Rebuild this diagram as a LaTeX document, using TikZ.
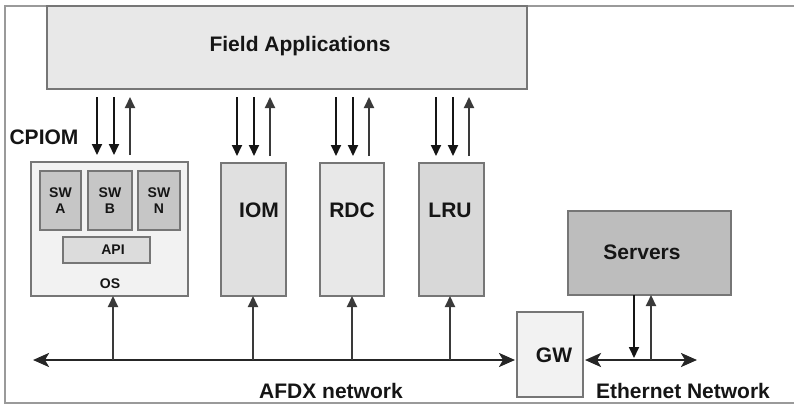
\documentclass[tikz,border=0pt]{standalone}
\usepackage{fontspec}
\setmainfont{Liberation Sans}
\usetikzlibrary{arrows.meta}

\definecolor{ink}{HTML}{151515}
\definecolor{inkup}{HTML}{3A3A3A}
\definecolor{businkc}{HTML}{262626}
\definecolor{boxline}{HTML}{767676}
\definecolor{framecol}{HTML}{9A9A9A}
\definecolor{faFill}{HTML}{E8E8E8}
\definecolor{cpiomFill}{HTML}{F2F2F2}
\definecolor{swFill}{HTML}{C6C6C6}
\definecolor{apiFill}{HTML}{DCDCDC}
\definecolor{iomFill}{HTML}{E0E0E0}
\definecolor{rdcFill}{HTML}{E8E8E8}
\definecolor{lruFill}{HTML}{D8D8D8}
\definecolor{srvFill}{HTML}{BDBDBD}
\definecolor{gwFill}{HTML}{F2F2F2}

\begin{document}
\begin{tikzpicture}[x=1pt,y=-1pt,
  box/.style={draw=boxline, line width=1.2pt, inner sep=0pt, outer sep=0pt, anchor=north west},
  big/.style={font=\fontsize{21}{24}\selectfont\bfseries, text=ink, inner sep=0pt},
  small/.style={font=\fontsize{14}{16}\selectfont\bfseries, text=ink, inner sep=0pt, align=center},
  dn/.style={line width=1.8pt, draw=ink, -{Triangle[length=11pt,width=10pt]}},
  upa/.style={line width=2pt, draw=inkup, -{Triangle[length=11pt,width=10pt]}},
  bus/.style={line width=2.6pt, draw=businkc, {Stealth[length=16pt,width=14pt,inset=4pt]}-{Stealth[length=16pt,width=14pt,inset=4pt]}},
  framing/.style={draw=framecol, line width=1.5pt}
]
\useasboundingbox (0,0) rectangle (794,405);

% outer frame
\draw[framing] (794,6) -- (5,6) -- (5,403) -- (794,403);

% boxes
\node[box, fill=faFill, minimum width=480pt, minimum height=83pt] (fa) at (47,6) {};
\node[box, fill=cpiomFill, minimum width=157pt, minimum height=134pt] (cpiom) at (31,162) {};
\node[box, fill=swFill, minimum width=41pt, minimum height=59pt] (swa) at (40,171) {};
\node[box, fill=swFill, minimum width=44pt, minimum height=59pt] (swb) at (88,171) {};
\node[box, fill=swFill, minimum width=42pt, minimum height=59pt] (swn) at (138,171) {};
\node[box, fill=apiFill, minimum width=87pt, minimum height=26pt] (api) at (63,237) {};
\node[box, fill=iomFill, minimum width=65pt, minimum height=133pt] (iom) at (221,163) {};
\node[box, fill=rdcFill, minimum width=64pt, minimum height=133pt] (rdc) at (320,163) {};
\node[box, fill=lruFill, minimum width=65pt, minimum height=133pt] (lru) at (419,163) {};
\node[box, fill=srvFill, minimum width=163pt, minimum height=84pt] (servers) at (568,211) {};
\node[box, fill=gwFill, minimum width=66pt, minimum height=85pt] (gw) at (517,312) {};

% labels
\node[big] (tfa) at (300,46) {Field Applications};
\node[big] (tcpiom) at (44,137) {CPIOM};
\node[small] (tswa) at (swa.center) {SW\\A};
\node[small] (tswb) at (swb.center) {SW\\B};
\node[small] (tswn) at (swn.center) {SW\\N};
\node[small] (tapi) at (113,250) {API};
\node[small] (tos) at (110,284) {OS};
\node[big] (tiom) at (259,210) {IOM};
\node[big] (trdc) at (352,210) {RDC};
\node[big] (tlru) at (450,210) {LRU};
\node[big] (tsrv) at (642,252) {Servers};
\node[big] (tgw) at (554,355) {GW};
\node[big] (tafdx) at (331,391) {AFDX network};
\node[big] (teth) at (683,391) {Ethernet Network};

% buses
\coordinate (afdxL) at (33,360);
\coordinate (ethR) at (697,360);
\draw[bus, shorten >=2pt] (afdxL) -- (afdxL -| gw.west);
\draw[bus, shorten <=2pt] (afdxL -| gw.east) -- (ethR);

% links between field applications, modules and the AFDX bus
\foreach \n/\m/\b in {cpiom/114/113, iom/254/253, rdc/353/352, lru/453/450}{
  \coordinate (d1\n) at (\m-17,0);
  \coordinate (d2\n) at (\m,0);
  \coordinate (u\n) at (\m+16,0);
  \coordinate (b\n) at (\b,0);
  \draw[dn, shorten <=8pt, shorten >=7pt] (fa.south -| d1\n) -- (\n.north -| d1\n);
  \draw[dn, shorten <=8pt, shorten >=7pt] (fa.south -| d2\n) -- (\n.north -| d2\n);
  \draw[upa, shorten <=7pt, shorten >=8pt] (\n.north -| u\n) -- (fa.south -| u\n);
  \draw[upa] (afdxL -| b\n) -- (\n.south -| b\n);
}

% servers to ethernet
\coordinate (sd) at (634,0);
\coordinate (su) at (651,0);
\draw[dn, shorten >=2pt] (servers.south -| sd) -- (ethR -| sd);
\draw[upa] (ethR -| su) -- (servers.south -| su);
\end{tikzpicture}
\end{document}
